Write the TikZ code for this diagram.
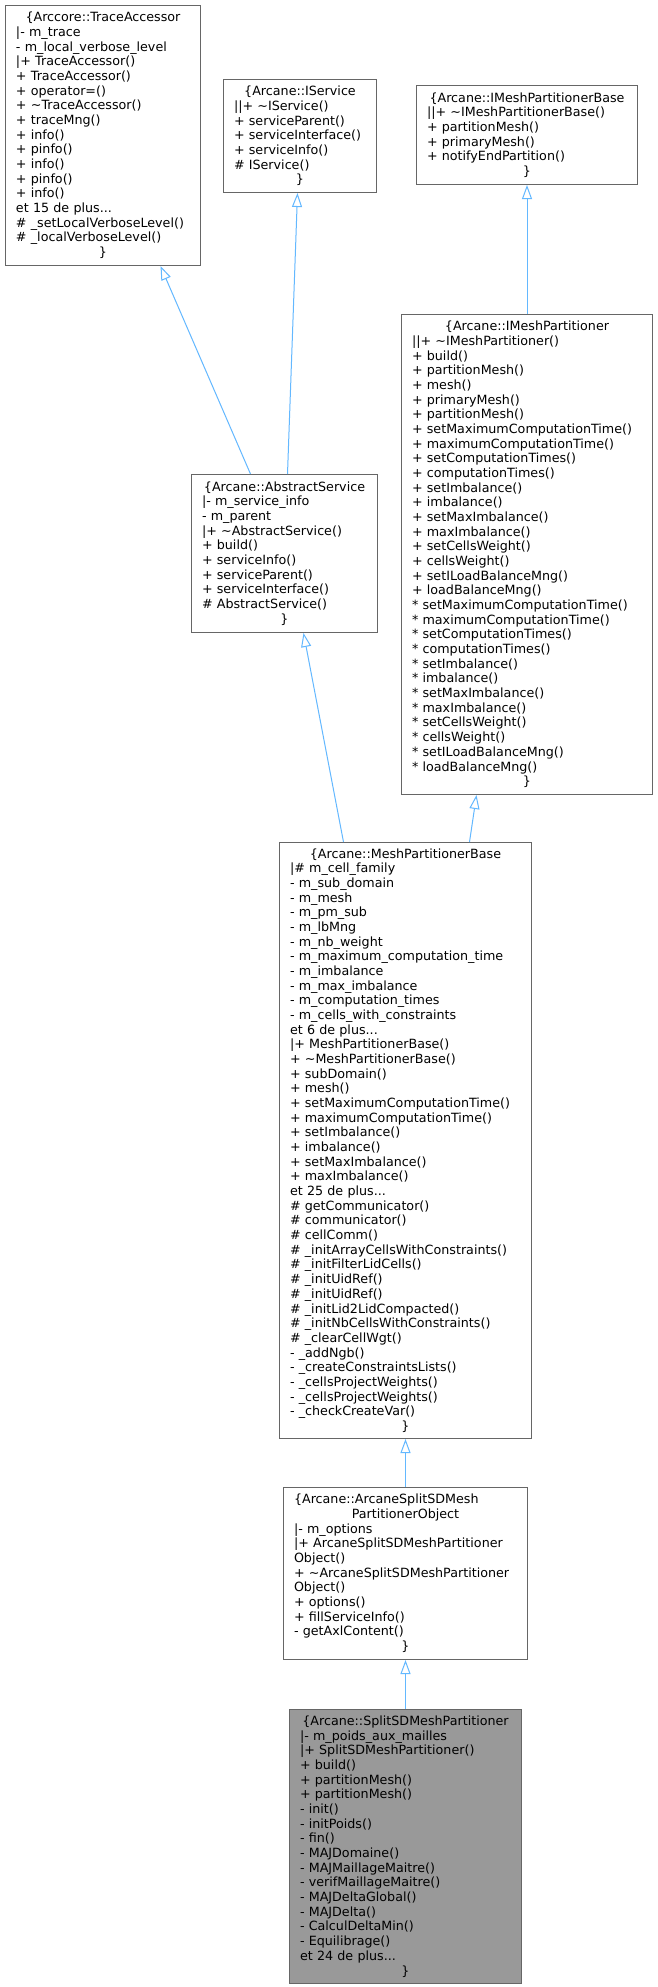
\documentclass[tikz,border=0pt]{standalone}
\usepackage{fontspec}
\setmainfont{DejaVu Sans}
\usepackage{tikz}
\usetikzlibrary{arrows.meta,positioning}
\definecolor{boxgray}{HTML}{666666}
\definecolor{focusgray}{HTML}{999999}
\definecolor{inhblue}{HTML}{63B8FF}
\newcommand{\ctrline}[1]{\makebox[\linewidth]{#1}}
\newcommand{\tld}{\textasciitilde}

\begin{document}
\begin{tikzpicture}[x=1pt, y=-1pt,
      cls/.style={draw=boxgray, line width=1pt, fill=white, anchor=north west, align=left,
        inner xsep=10.5pt, inner ysep=0pt, font=\fontsize{12.7}{14.67}\selectfont},
      focus/.style={cls, fill=focusgray},
      inh/.style={draw=inhblue, line width=1pt, -{Triangle[open, length=14pt, width=10pt]}}]
    \fill[white] (0,0) rectangle (657,1987);
    \useasboundingbox (0,0) rectangle (657,1987);
    \node[cls, minimum width=195pt, minimum height=260pt, text width=174pt] (trace) at (5,5)
      {\ctrline{\{Arccore::TraceAccessor}\\|- m\_trace\\- m\_local\_verbose\_level\\|+ TraceAccessor()\\+ TraceAccessor()\\+ operator=()\\+ \tld{}TraceAccessor()\\+ traceMng()\\+ info()\\+ pinfo()\\+ info()\\+ pinfo()\\+ info()\\et 15 de plus...\\\# \_setLocalVerboseLevel()\\\# \_localVerboseLevel()\\\ctrline{\}}};
    \node[cls, minimum width=153pt, minimum height=113pt, text width=132pt] (isvc) at (223,79)
      {\ctrline{\{Arcane::IService}\\||+ \tld{}IService()\\+ serviceParent()\\+ serviceInterface()\\+ serviceInfo()\\\# IService()\\\ctrline{\}}};
    \node[cls, minimum width=221pt, minimum height=99pt, text width=200pt] (ipbase) at (416,85)
      {\ctrline{\{Arcane::IMeshPartitionerBase}\\||+ \tld{}IMeshPartitionerBase()\\+ partitionMesh()\\+ primaryMesh()\\+ notifyEndPartition()\\\ctrline{\}}};
    \node[cls, below=129pt of ipbase, minimum width=251pt, minimum height=480pt, text width=230pt] (ipart)
      {\ctrline{\{Arcane::IMeshPartitioner}\\||+ \tld{}IMeshPartitioner()\\+ build()\\+ partitionMesh()\\+ mesh()\\+ primaryMesh()\\+ partitionMesh()\\+ setMaximumComputationTime()\\+ maximumComputationTime()\\+ setComputationTimes()\\+ computationTimes()\\+ setImbalance()\\+ imbalance()\\+ setMaxImbalance()\\+ maxImbalance()\\+ setCellsWeight()\\+ cellsWeight()\\+ setILoadBalanceMng()\\+ loadBalanceMng()\\{}* setMaximumComputationTime()\\{}* maximumComputationTime()\\{}* setComputationTimes()\\{}* computationTimes()\\{}* setImbalance()\\{}* imbalance()\\{}* setMaxImbalance()\\{}* maxImbalance()\\{}* setCellsWeight()\\{}* cellsWeight()\\{}* setILoadBalanceMng()\\{}* loadBalanceMng()\\\ctrline{\}}};
    \node[cls, minimum width=186pt, minimum height=158pt, text width=165pt] (abssvc) at (191,474)
      {\ctrline{\{Arcane::AbstractService}\\|- m\_service\_info\\- m\_parent\\|+ \tld{}AbstractService()\\+ build()\\+ serviceInfo()\\+ serviceParent()\\+ serviceInterface()\\\# AbstractService()\\\ctrline{\}}};
    \node[cls, minimum width=252pt, minimum height=596pt, text width=231pt] (mpbase) at (279,842)
      {\ctrline{\{Arcane::MeshPartitionerBase}\\|\# m\_cell\_family\\- m\_sub\_domain\\- m\_mesh\\- m\_pm\_sub\\- m\_lbMng\\- m\_nb\_weight\\- m\_maximum\_computation\_time\\- m\_imbalance\\- m\_max\_imbalance\\- m\_computation\_times\\- m\_cells\_with\_constraints\\et 6 de plus...\\|+ MeshPartitionerBase()\\+ \tld{}MeshPartitionerBase()\\+ subDomain()\\+ mesh()\\+ setMaximumComputationTime()\\+ maximumComputationTime()\\+ setImbalance()\\+ imbalance()\\+ setMaxImbalance()\\+ maxImbalance()\\et 25 de plus...\\\# getCommunicator()\\\# communicator()\\\# cellComm()\\\# \_initArrayCellsWithConstraints()\\\# \_initFilterLidCells()\\\# \_initUidRef()\\\# \_initUidRef()\\\# \_initLid2LidCompacted()\\\# \_initNbCellsWithConstraints()\\\# \_clearCellWgt()\\- \_addNgb()\\- \_createConstraintsLists()\\- \_cellsProjectWeights()\\- \_cellsProjectWeights()\\- \_checkCreateVar()\\\ctrline{\}}};
    \node[cls, below=48pt of mpbase, minimum width=244pt, minimum height=172pt, text width=223pt] (sdobj)
      {\{Arcane::ArcaneSplitSDMesh\\\ctrline{PartitionerObject}\\|- m\_options\\|+ ArcaneSplitSDMeshPartitioner\\Object()\\+ \tld{}ArcaneSplitSDMeshPartitioner\\Object()\\+ options()\\+ fillServiceInfo()\\- getAxlContent()\\\ctrline{\}}};
    \node[focus, below=49pt of sdobj, minimum width=232pt, minimum height=274pt, text width=211pt] (sdpart)
      {\ctrline{\{Arcane::SplitSDMeshPartitioner}\\|- m\_poids\_aux\_mailles\\|+ SplitSDMeshPartitioner()\\+ build()\\+ partitionMesh()\\+ partitionMesh()\\- init()\\- initPoids()\\- fin()\\- MAJDomaine()\\- MAJMaillageMaitre()\\- verifMaillageMaitre()\\- MAJDeltaGlobal()\\- MAJDelta()\\- CalculDeltaMin()\\- Equilibrage()\\et 24 de plus...\\\ctrline{\}}};
    \draw[inh] ([xshift=-34pt]abssvc.north) -- ([xshift=57.5pt]trace.south);
    \draw[inh] ([xshift=3pt]abssvc.north) -- ([xshift=-2.5pt]isvc.south);
    \draw[inh] (ipart) -- (ipbase);
    \draw[inh] ([xshift=-62pt]mpbase.north) -- ([xshift=19pt]abssvc.south);
    \draw[inh] ([xshift=64pt]mpbase.north) -- ([xshift=-50.5pt]ipart.south);
    \draw[inh] (sdobj) -- (mpbase); \draw[inh] (sdpart) -- (sdobj);
  \end{tikzpicture}
\end{document}
